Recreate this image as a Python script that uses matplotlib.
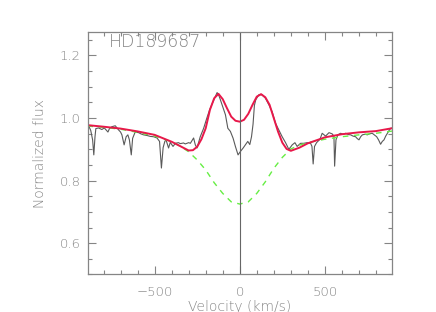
import matplotlib
matplotlib.use("Agg")
import matplotlib.pyplot as plt
from matplotlib.ticker import MultipleLocator

plt.rcParams['font.family'] = ['DejaVu Sans']
plt.rcParams['font.weight'] = 'light'
plt.rcParams['axes.labelweight'] = 'light'

# Observed spectrum (velocity km/s, normalized flux)
spec_v = [-894, -885, -875, -864, -857, -850, -845, -829, -810, -795, -785, -774, -765, -751,
          -731, -712, -700, -692, -679, -667, -657, -648, -637, -629, -614, -594, -580, -565,
          -545, -525, -506, -486, -471, -460, -450, -440, -433, -418, -408, -392, -378, -360,
          -349, -330, -320, -300, -290, -271, -261, -251, -240, -232, -212, -193, -177, -160,
          -145, -133, -123, -115, -104, -94, -84, -70, -55, -39, -25, -10, 4, 20, 33, 47, 59,
          69, 78, 86, 94, 112, 131, 151, 171, 190, 210, 229, 249, 269, 288, 300, 308, 324, 337,
          357, 376, 396, 416, 424, 431, 439, 451, 471, 484, 504, 524, 543, 553, 557, 565, 576,
          592, 608, 622, 637, 651, 665, 680, 690, 700, 710, 720, 735, 749, 765, 778, 790, 804,
          815, 827, 837, 847, 857, 867, 877, 886, 894]
spec_f = [0.976, 0.972, 0.960, 0.930, 0.882, 0.940, 0.966, 0.968, 0.963, 0.968, 0.962, 0.955,
          0.966, 0.972, 0.975, 0.962, 0.955, 0.946, 0.914, 0.940, 0.946, 0.930, 0.882, 0.935,
          0.955, 0.953, 0.949, 0.946, 0.944, 0.941, 0.940, 0.936, 0.925, 0.840, 0.905, 0.925,
          0.930, 0.904, 0.922, 0.909, 0.919, 0.921, 0.918, 0.920, 0.917, 0.921, 0.919, 0.936,
          0.914, 0.904, 0.925, 0.940, 0.967, 1.000, 1.026, 1.048, 1.066, 1.081, 1.072, 1.060,
          1.042, 1.026, 1.010, 0.967, 0.957, 0.935, 0.908, 0.882, 0.893, 0.904, 0.914, 0.925,
          0.915, 0.940, 0.980, 1.040, 1.058, 1.074, 1.074, 1.063, 1.042, 1.020, 0.983, 0.962,
          0.940, 0.921, 0.900, 0.908, 0.914, 0.921, 0.909, 0.919, 0.919, 0.921, 0.919, 0.909,
          0.853, 0.909, 0.921, 0.932, 0.951, 0.942, 0.953, 0.949, 0.942, 0.846, 0.930, 0.946,
          0.951, 0.948, 0.951, 0.947, 0.946, 0.942, 0.940, 0.934, 0.930, 0.940, 0.946, 0.948,
          0.946, 0.950, 0.951, 0.946, 0.940, 0.930, 0.916, 0.925, 0.930, 0.942, 0.951, 0.960,
          0.967, 0.967]

# Fitted model (red)
model_v = [-894, -800, -700, -600, -500, -400, -350, -300, -275, -250, -225, -200, -175, -150,
           -125, -100, -75, -50, -25, 0, 25, 50, 75, 100, 125, 150, 175, 200, 225, 250, 275,
           300, 350, 400, 500, 600, 700, 800, 894]
model_f = [0.977, 0.972, 0.966, 0.957, 0.946, 0.924, 0.910, 0.896, 0.897, 0.908, 0.932, 0.967,
           1.026, 1.063, 1.077, 1.060, 1.031, 1.004, 0.991, 0.988, 0.994, 1.013, 1.042, 1.068,
           1.076, 1.066, 1.042, 0.999, 0.956, 0.921, 0.901, 0.895, 0.905, 0.919, 0.938, 0.948,
           0.954, 0.958, 0.967]

# Photospheric absorption profile (green dashed)
abs_v = [-894, -800, -700, -600, -500, -400, -350, -300, -250, -200, -150, -100, -50, 0,
         50, 100, 150, 200, 250, 300, 350, 400, 500, 600, 700, 800, 894]
abs_f = [0.974, 0.970, 0.964, 0.954, 0.942, 0.924, 0.910, 0.892, 0.866, 0.834, 0.793, 0.759,
         0.732, 0.725, 0.732, 0.759, 0.796, 0.839, 0.874, 0.901, 0.913, 0.921, 0.932, 0.940,
         0.946, 0.951, 0.958]

grey = "#858585"
fig = plt.figure(figsize=(4.36, 3.12), dpi=100)
ax = fig.add_axes([0.2007, 0.1202, 0.6984, 0.7788])

ax.plot(spec_v, spec_f, color="#5a5a5a", lw=0.8)
ax.plot(abs_v, abs_f, color="#66ee44", lw=1.0, ls=(0, (4, 4)))
ax.plot(model_v, model_f, color="#e8184a", lw=1.4)
ax.axvline(0, color="#666666", lw=0.8)

ax.set_xlim(-894, 894)
ax.set_ylim(0.5, 1.276)
ax.xaxis.set_minor_locator(MultipleLocator(100))
ax.yaxis.set_minor_locator(MultipleLocator(0.05))
ax.set_yticks([0.6, 0.8, 1.0, 1.2])
ax.set_yticklabels(["0.6", "0.8", "1.0", "1.2"])
ax.set_xticks([-500, 0, 500])
ax.set_xticklabels(["\u2212500", "0", "500"])

ax.tick_params(which="both", direction="in", top=True, right=True, colors=grey,
               labelcolor=grey, labelsize=9.5)
ax.tick_params(which="major", length=6, width=0.8)
ax.tick_params(which="minor", length=3, width=0.8)
ax.tick_params(axis="x", pad=8)
ax.tick_params(axis="y", pad=5)
for s in ax.spines.values():
    s.set_color(grey)
    s.set_linewidth(0.9)

ax.set_xlabel("Velocity (km/s)", color=grey, fontsize=10, labelpad=2, fontweight="light")
ax.set_ylabel("Normalized flux", color=grey, fontsize=10, labelpad=9, fontweight="light")
ax.text(0.07, 0.957, "HD189687", transform=ax.transAxes, color=grey, fontsize=12.5,
        va="center", ha="left", fontweight="light")

fig.savefig("out.png", dpi=100)
